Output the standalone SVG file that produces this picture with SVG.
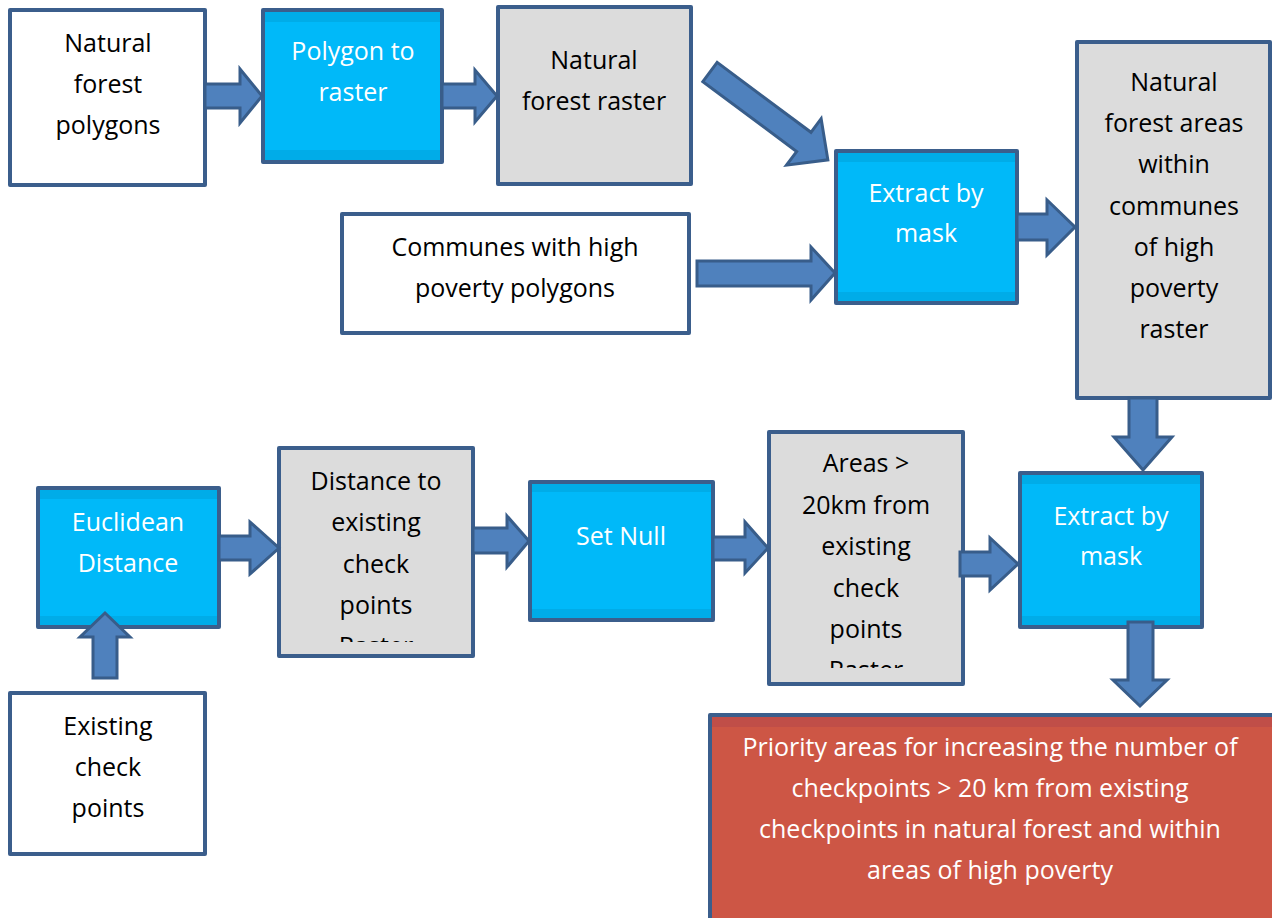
<svg xmlns="http://www.w3.org/2000/svg" width="1272" height="918" viewBox="0 0 1272 918">
<style>
.box{stroke:#3b5e8c;stroke-width:4;stroke-linejoin:round}
.w{fill:#ffffff}
.b{fill:#00b9f9}
.g{fill:#dcdcdc}
.r{fill:#cd5645}
.band-b{fill:#00ace8}
.band-r{fill:#c04e48}
.t{font-family:"Open Sans","Noto Sans",sans-serif;font-size:25px;text-anchor:middle}
.dk{fill:#000000}
.lt{fill:#ffffff}
.arr{fill:#4f81bd;stroke:#385d8a;stroke-width:3;stroke-linejoin:miter}
</style>
<defs>
<clipPath id="c9"><rect x="281" y="450" width="190" height="192"/></clipPath>
<clipPath id="c11"><rect x="771" y="434" width="190" height="234"/></clipPath>
</defs>
<rect width="1272" height="918" fill="#ffffff"/>

<g id="n1">
<rect class="box w" x="10" y="10" width="195" height="175"/>
<text class="t dk"><tspan x="108" y="52">Natural</tspan><tspan x="108" y="93">forest</tspan><tspan x="108" y="134">polygons</tspan></text>
</g>
<g id="n2">
<rect class="box b" x="263" y="10" width="179" height="152"/>
<rect class="band-b" x="265" y="12" width="175" height="10"/>
<rect class="band-b" x="265" y="150" width="175" height="10"/>
<text class="t lt"><tspan x="353" y="60">Polygon to</tspan><tspan x="353" y="101">raster</tspan></text>
</g>
<g id="n3">
<rect class="box g" x="498" y="7" width="193" height="177"/>
<text class="t dk"><tspan x="594" y="69">Natural</tspan><tspan x="594" y="110">forest raster</tspan></text>
</g>
<g id="n4">
<rect class="box b" x="836" y="151" width="181" height="152"/>
<rect class="band-b" x="838" y="153" width="177" height="9"/>
<rect class="band-b" x="838" y="292" width="177" height="9"/>
<text class="t lt"><tspan x="926" y="202">Extract by</tspan><tspan x="926" y="242">mask</tspan></text>
</g>
<g id="n5">
<rect class="box g" x="1077" y="42" width="193" height="356"/>
<text class="t dk"><tspan x="1174" y="91">Natural</tspan><tspan x="1174" y="132">forest areas</tspan><tspan x="1174" y="173">within</tspan><tspan x="1174" y="215">communes</tspan><tspan x="1174" y="256">of high</tspan><tspan x="1174" y="297">poverty</tspan><tspan x="1174" y="338">raster</tspan></text>
</g>
<g id="n6">
<rect class="box w" x="342" y="214" width="347" height="119"/>
<text class="t dk"><tspan x="515" y="256">Communes with high</tspan><tspan x="515" y="297">poverty polygons</tspan></text>
</g>
<g id="n7">
<rect class="box b" x="38" y="488" width="181" height="139"/>
<rect class="band-b" x="40" y="490" width="177" height="9"/>
<rect class="band-b" x="40" y="616" width="177" height="9"/>
<text class="t lt"><tspan x="128" y="531">Euclidean</tspan><tspan x="128" y="572">Distance</tspan></text>
</g>
<g id="n8">
<rect class="box w" x="10" y="693" width="195" height="161"/>
<text class="t dk"><tspan x="108" y="735">Existing</tspan><tspan x="108" y="776">check</tspan><tspan x="108" y="817">points</tspan></text>
</g>
<g id="n9">
<rect class="box g" x="279" y="448" width="194" height="208"/>
<text class="t dk" clip-path="url(#c9)"><tspan x="376" y="490">Distance to</tspan><tspan x="376" y="531">existing</tspan><tspan x="376" y="573">check</tspan><tspan x="376" y="614">points</tspan><tspan x="376" y="655">Raster</tspan></text>
</g>
<g id="n10">
<rect class="box b" x="530" y="482" width="183" height="138"/>
<rect class="band-b" x="532" y="484" width="179" height="8"/>
<rect class="band-b" x="532" y="609" width="179" height="9"/>
<text class="t lt"><tspan x="621" y="545">Set Null</tspan></text>
</g>
<g id="n11">
<rect class="box g" x="769" y="432" width="194" height="252"/>
<text class="t dk" clip-path="url(#c11)"><tspan x="866" y="472">Areas &gt;</tspan><tspan x="866" y="514">20km from</tspan><tspan x="866" y="555">existing</tspan><tspan x="866" y="597">check</tspan><tspan x="866" y="638">points</tspan><tspan x="866" y="679">Raster</tspan></text>
</g>
<g id="n12">
<rect class="box b" x="1020" y="473" width="182" height="154"/>
<rect class="band-b" x="1022" y="475" width="178" height="9"/>
<rect class="band-b" x="1022" y="616" width="178" height="9"/>
<text class="t lt"><tspan x="1111" y="525">Extract by</tspan><tspan x="1111" y="565">mask</tspan></text>
</g>
<g id="n13">
<rect class="box r" x="710" y="715" width="566" height="207"/>
<rect class="band-r" x="712" y="717" width="560" height="10"/>
<text class="t lt"><tspan x="990" y="756">Priority areas for increasing the number of</tspan><tspan x="990" y="797">checkpoints &gt; 20 km from existing</tspan><tspan x="990" y="838">checkpoints in natural forest and within</tspan><tspan x="990" y="879">areas of high poverty</tspan></text>
</g>

<g id="connectors">
<polygon class="arr" points="205,84 240,84 240,69 262,96 240,123 240,108 205,108"/>
<polygon class="arr" points="442,84 475,84 475,70 497,96 475,122 475,108 442,108"/>
<polygon class="arr" transform="translate(710,72) rotate(36.7)" points="0,-12 117,-12 117,-29 147,0 117,29 117,12 0,12"/>
<polygon class="arr" points="697,261 811,261 811,247 835,273 811,300 811,286 697,286"/>
<polygon class="arr" points="1017,214 1047,214 1047,200 1075,227 1047,255 1047,240 1017,240"/>
<polygon class="arr" points="1129,398 1157,398 1157,437 1172,437 1143,470 1114,437 1129,437"/>
<polygon class="arr" points="219,536 250,536 250,522 279,548 250,574 250,560 219,560"/>
<polygon class="arr" points="473,528 507,528 507,516 529,541 507,567 507,553 473,553"/>
<polygon class="arr" points="713,537 745,537 745,522 768,548 745,573 745,560 713,560"/>
<polygon class="arr" points="960,552 990,552 990,538 1018,564 990,590 990,576 960,576"/>
<polygon class="arr" points="1128,622 1153,622 1153,680 1167,680 1140,706 1113,680 1128,680"/>
<polygon class="arr" points="93,678 93,637 80,637 105,613 130,637 117,637 117,678"/>
</g>
</svg>
